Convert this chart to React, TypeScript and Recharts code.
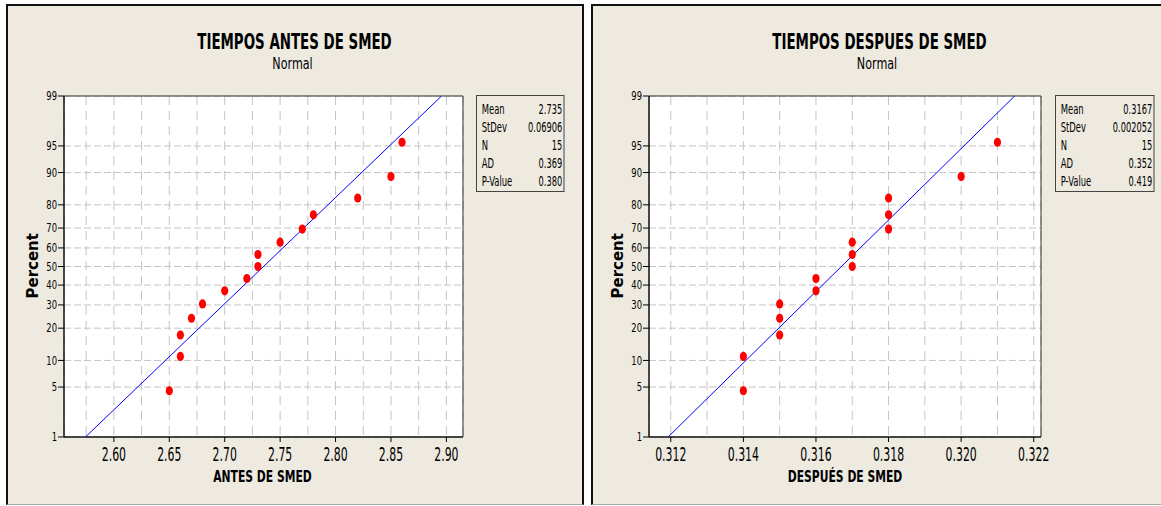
import React from 'react';
import { ScatterChart, Scatter, XAxis, YAxis, CartesianGrid, ReferenceArea } from 'recharts';

// percent positions of the 15 ordered observations (same for both plots)
const percents = [4.5, 11.0, 17.5, 24.0, 30.5, 37.0, 43.5, 50.0, 56.5, 63.0, 69.5, 76.0, 82.5, 89.0, 95.5];

const antes = [2.65, 2.66, 2.66, 2.67, 2.68, 2.70, 2.72, 2.73, 2.73, 2.75, 2.77, 2.78, 2.82, 2.85, 2.86];
const despues = [0.314, 0.314, 0.315, 0.315, 0.315, 0.316, 0.316, 0.317, 0.317, 0.317, 0.318, 0.318, 0.318, 0.320, 0.321];

const pctTicks = [1, 5, 10, 20, 30, 40, 50, 60, 70, 80, 90, 95, 99];

const antesGrid = [2.575, 2.6, 2.625, 2.65, 2.675, 2.7, 2.725, 2.75, 2.775, 2.8, 2.825, 2.85, 2.875, 2.9];
const antesMajors = [2.6, 2.65, 2.7, 2.75, 2.8, 2.85, 2.9];
const despuesGrid = [0.312, 0.313, 0.314, 0.315, 0.316, 0.317, 0.318, 0.319, 0.32, 0.321, 0.322];
const despuesMajors = [0.312, 0.314, 0.316, 0.318, 0.32, 0.322];

const statLabels = ['Mean', 'StDev', 'N', 'AD', 'P-Value'];
const antesStats = ['2.735', '0.06906', '15', '0.369', '0.380'];
const despuesStats = ['0.3167', '0.002052', '15', '0.352', '0.419'];
const antesMean = 2.735;
const antesSd = 0.06906;
const despuesMean = 0.3167;
const despuesSd = 0.002052;

const FONT = '"DejaVu Sans", Tahoma, sans-serif';
const BG = '#EEEAE0';

// inverse normal cdf (Acklam) -> probability scale
function invNorm(p: number) {
  const a = [-39.69683028665376, 220.9460984245205, -275.9285104469687, 138.357751867269, -30.66479806614716, 2.506628277459239];
  const b = [-54.47609879822406, 161.5858368580409, -155.6989798598866, 66.80131188771972, -13.28068155288572];
  const c = [-0.007784894002430293, -0.3223964580411365, -2.400758277161838, -2.549671669319628, 4.374664141464968, 2.938163982698783];
  const d = [0.007784695709041462, 0.3224671290700398, 2.445134137142996, 3.754408661907416];
  const plow = 0.02425;
  if (p < plow) {
    const q = Math.sqrt(-2 * Math.log(p));
    return (((((c[0] * q + c[1]) * q + c[2]) * q + c[3]) * q + c[4]) * q + c[5]) / ((((d[0] * q + d[1]) * q + d[2]) * q + d[3]) * q + 1);
  }
  if (p > 1 - plow) {
    const q = Math.sqrt(-2 * Math.log(1 - p));
    return -(((((c[0] * q + c[1]) * q + c[2]) * q + c[3]) * q + c[4]) * q + c[5]) / ((((d[0] * q + d[1]) * q + d[2]) * q + d[3]) * q + 1);
  }
  const q = p - 0.5;
  const r = q * q;
  return ((((((a[0] * r + a[1]) * r + a[2]) * r + a[3]) * r + a[4]) * r + a[5]) * q) / (((((b[0] * r + b[1]) * r + b[2]) * r + b[3]) * r + b[4]) * r + 1);
}

const zTicks = pctTicks.map((p) => invNorm(p / 100));
const zMin = zTicks[0];
const zMax = zTicks[zTicks.length - 1];

const T = ({ x, y, s, f, sx = 0.86, sy = 1, anchor = 'start', bold = false, rotate = 0 }: any) => (
  <text
    transform={`translate(${x},${y}) rotate(${rotate}) scale(${sx},${sy})`}
    fontSize={f}
    fontFamily={FONT}
    fontWeight={bold ? 'bold' : 'normal'}
    textAnchor={anchor}
    fill="#000"
  >
    {s}
  </text>
);

const makeXTick = (majors: number[], digits: number) => (props: any) => {
  const { x, y, payload } = props;
  const major = majors.some((m) => Math.abs(m - payload.value) < 1e-9);
  if (!major) return <g />;
  return (
    <g transform={`translate(${x},${y})`}>
      <line x1={0} y1={-7} x2={0} y2={-2} stroke="#000" />
      <text transform="scale(0.86,1.52)" y={11.4} textAnchor="middle" fontSize={12.7} fontFamily={FONT} fill="#000">
        {payload.value.toFixed(digits)}
      </text>
    </g>
  );
};

const YTick = (props: any) => {
  const { x, y, payload } = props;
  return (
    <text transform={`translate(${x},${y}) scale(0.86,1.17)`} y={3.6} textAnchor="end" fontSize={9.8} fontFamily={FONT} fill="#000">
      {pctTicks[payload.index]}
    </text>
  );
};

const Dot = (props: any) => <ellipse cx={props.cx} cy={props.cy} rx={3.6} ry={4.6} fill="#FF0000" />;
const NoDot = () => <g />;

const ProbPlot = ({ values, mean, sd, domain, grid, majors, digits, width, margin }: any) => {
  const points = values.map((v: number, i: number) => ({ x: v, z: invNorm(percents[i] / 100) }));
  const fit = [
    { x: mean + sd * zMin, z: zMin },
    { x: mean + sd * zMax, z: zMax },
  ];
  return (
    <ScatterChart width={width} height={506} margin={margin}>
      <CartesianGrid vertical={false} stroke="#C4C4C4" strokeDasharray="7 3" fill="#FFFFFF" />
      <CartesianGrid horizontal={false} stroke="#C4C4C4" strokeDasharray="9 6" />
      <XAxis
        type="number"
        dataKey="x"
        domain={domain}
        ticks={grid}
        interval={0}
        allowDataOverflow
        height={30}
        tickSize={5}
        tickMargin={2}
        tickLine={false}
        axisLine={{ stroke: '#000' }}
        tick={makeXTick(majors, digits)}
      />
      <YAxis
        type="number"
        dataKey="z"
        domain={[zMin, zMax]}
        ticks={zTicks}
        interval={0}
        allowDataOverflow
        width={30}
        tickSize={6}
        tickMargin={1}
        tickLine={{ stroke: '#000' }}
        axisLine={{ stroke: '#000' }}
        tick={<YTick />}
      />
      <ReferenceArea x1={domain[0]} x2={domain[1]} y1={zMin} y2={zMax} fill="none" stroke="#333" strokeWidth={1} />
      <Scatter data={fit} line={{ stroke: '#0000FF', strokeWidth: 1 }} shape={<NoDot />} isAnimationActive={false} />
      <Scatter data={points} shape={<Dot />} isAnimationActive={false} />
    </ScatterChart>
  );
};

const StatBox = ({ x, y, w, labels, values }: any) => (
  <g>
    <rect x={x} y={y} width={w} height={96} fill="none" stroke="#444" />
    {labels.map((l: string, i: number) => (
      <T key={'l' + i} x={x + 5.2} y={y + 18 + i * 18.1} s={l} f={9.8} sy={1.4} />
    ))}
    {values.map((v: string, i: number) => (
      <T key={'v' + i} x={x + w - 1.8} y={y + 18 + i * 18.1} s={v} f={9.6} sy={1.4} anchor="end" />
    ))}
  </g>
);

export default function App() {
  const panel: React.CSSProperties = {
    position: 'absolute',
    top: 4,
    height: 501,
    boxSizing: 'border-box',
    background: BG,
    borderTop: '2px solid #111',
    borderLeft: '2px solid #111',
    borderBottom: '1px solid #A8A8A8',
  };
  return (
    <div style={{ position: 'absolute', left: 0, top: 0, width: 1161, height: 506, overflow: 'hidden', background: '#fff' }}>
      <div style={{ ...panel, left: 6, width: 578, borderRight: '2px solid #111' }} />
      <div style={{ ...panel, left: 591, width: 600 }} />
      <div style={{ position: 'absolute', left: 0, top: 0 }}>
        <ProbPlot
          values={antes}
          mean={antesMean}
          sd={antesSd}
          domain={[2.555, 2.915]}
          grid={antesGrid}
          majors={antesMajors}
          digits={2}
          width={584}
          margin={{ top: 96, right: 121, bottom: 39, left: 34 }}
        />
      </div>
      <div style={{ position: 'absolute', left: 584, top: 0 }}>
        <ProbPlot
          values={despues}
          mean={despuesMean}
          sd={despuesSd}
          domain={[0.3114, 0.3222]}
          grid={despuesGrid}
          majors={despuesMajors}
          digits={3}
          width={577}
          margin={{ top: 96, right: 120, bottom: 39, left: 35 }}
        />
      </div>
      <svg width={1161} height={506} style={{ position: 'absolute', left: 0, top: 0, pointerEvents: 'none' }}>
        <T x={294.5} y={49.3} s="TIEMPOS ANTES DE SMED" f={14.9} sx={0.9} sy={1.47} anchor="middle" bold />
        <T x={292.5} y={69.3} s="Normal" f={13} sy={1.16} anchor="middle" />
        <T x={262.5} y={481.7} s="ANTES DE SMED" f={12} sx={0.9} sy={1.34} anchor="middle" bold />
        <T x={38.3} y={265.8} s="Percent" f={15} sx={1} sy={1} rotate={-90} anchor="middle" bold />
        <StatBox x={476.5} y={95.5} w={87.5} labels={statLabels} values={antesStats} />

        <T x={879.5} y={49.3} s="TIEMPOS DESPUES DE SMED" f={14.9} sx={0.9} sy={1.47} anchor="middle" bold />
        <T x={877} y={69.3} s="Normal" f={13} sy={1.16} anchor="middle" />
        <T x={845} y={481.7} s="DESPUÉS DE SMED" f={12} sx={0.9} sy={1.34} anchor="middle" bold />
        <T x={622.7} y={265.8} s="Percent" f={15} sx={1} sy={1} rotate={-90} anchor="middle" bold />
        <StatBox x={1055.5} y={95.5} w={98.5} labels={statLabels} values={despuesStats} />
      </svg>
    </div>
  );
}
